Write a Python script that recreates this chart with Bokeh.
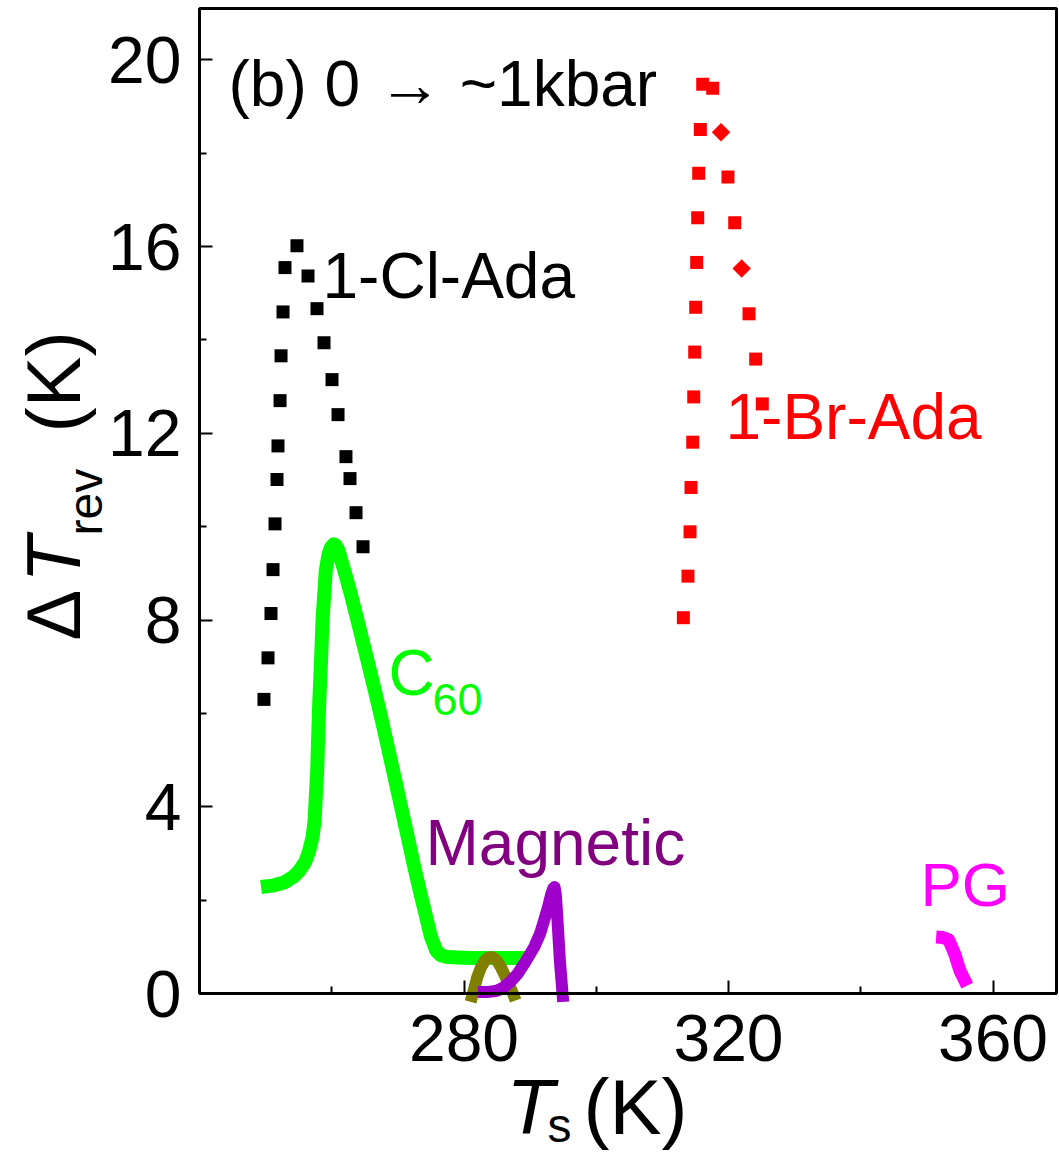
import math
from bokeh.plotting import figure
from bokeh.models import Range1d, FixedTicker, Label, BoxAnnotation
from bokeh.embed import file_html
from bokeh.resources import INLINE

# ---------------- data ----------------
cl_ada_T = [249.75, 250.36, 250.81, 251.12, 251.42, 251.72, 251.87, 252.18, 252.33, 252.63, 252.93, 254.74,
            256.41, 257.77, 258.83, 260.04, 260.95, 262.15, 262.76, 263.67, 264.73]
cl_ada_dT = [6.30, 7.19, 8.14, 9.08, 10.06, 11.01, 11.73, 12.70, 13.66, 14.60, 15.55, 16.02,
             15.37, 14.67, 13.94, 13.15, 12.40, 11.50, 11.03, 10.30, 9.57]

br_ada_T = [313.17, 313.87, 314.18, 314.33, 314.59, 314.74, 314.89, 315.04, 315.19, 315.34, 315.49, 315.74, 316.10,
            317.61, 319.92, 320.94, 323.10, 324.11, 325.11]
br_ada_dT = [8.05, 8.94, 9.89, 10.84, 11.81, 12.78, 13.74, 14.70, 15.66, 16.62, 17.57, 18.51, 19.48,
             19.39, 17.49, 16.51, 14.56, 13.59, 12.63]
br_ada_diamond_T = [318.87, 321.99]
br_ada_diamond_dT = [18.45, 15.53]

c60_T = [249.3, 251.0, 252.8, 254.2, 255.1, 256.0, 256.6, 257.1, 257.4, 257.8, 258.1, 258.4, 258.6, 259.1,
         259.5, 259.9, 260.3, 260.6, 261.0, 261.4, 261.9, 262.9, 263.9, 265.2, 266.4, 267.5, 268.5, 269.5,
         270.5, 271.5, 272.5, 273.4, 274.3, 275.0, 275.8, 276.5, 277.5, 279.0, 281.0, 284.0, 287.0, 289.6]
c60_dT = [2.28, 2.31, 2.38, 2.50, 2.63, 2.82, 3.06, 3.35, 3.70, 4.78, 6.20, 7.20, 7.99, 9.06,
          9.40, 9.56, 9.62, 9.60, 9.50, 9.30, 9.06, 8.55, 7.99, 7.25, 6.56, 5.90, 5.27, 4.63,
          3.99, 3.35, 2.70, 2.15, 1.63, 1.22, 0.92, 0.82, 0.78, 0.77, 0.76, 0.76, 0.76, 0.76]

olive_T = [281.0, 281.5, 282.0, 282.6, 283.2, 283.7, 284.1, 284.6, 285.1, 285.6, 286.2, 286.8, 287.4, 287.8]
olive_dT = [-0.18, 0.08, 0.35, 0.57, 0.71, 0.77, 0.78, 0.75, 0.68, 0.56, 0.38, 0.18, 0.00, -0.15]

mag_T = [282.1, 283.5, 285.0, 286.0, 287.0, 288.1, 289.3, 290.6, 291.5, 292.1, 292.7, 293.2, 293.5, 293.7,
         293.9, 294.2, 294.5, 294.9, 295.0]
mag_dT = [0.03, 0.03, 0.06, 0.13, 0.25, 0.42, 0.68, 0.99, 1.28, 1.56, 1.85, 2.13, 2.25, 2.28,
          2.10, 1.42, 0.70, 0.00, -0.18]

pg_T = [351.4, 352.4, 353.3, 354.2, 355.0, 356.1]
pg_dT = [1.21, 1.20, 1.15, 0.85, 0.49, 0.17]

x_major = [280, 320, 360]
x_minor = [260, 300, 340]
y_major = [0, 4, 8, 12, 16, 20]
y_minor = [2, 6, 10, 14, 18]

# ---------------- layout helpers ----------------
W, H = 1059, 1158
X0, X1 = 240.0, 369.6          # data extent of the axes box
Y0, Y1 = 0.0, 21.1
FL, FT, FR, FB = 199, 8, 1056, 993   # axes box edges in page px


def px(xp, yp):
    """page pixel position -> data coordinates (used for placing texts / ranges)"""
    x = X0 + (xp - FL) * (X1 - X0) / (FR - FL)
    y = Y0 + (FB - yp) * (Y1 - Y0) / (FB - FT)
    return x, y


xs0, ys1 = px(0, 0)
xs1, ys0 = px(W, H)

FONT = "Liberation Sans"

p = figure(width=W, height=H, output_backend="svg", toolbar_location=None,
           x_range=Range1d(xs0, xs1), y_range=Range1d(ys0, ys1),
           min_border_left=0, min_border_right=0, min_border_top=0, min_border_bottom=0)
p.background_fill_color = "white"
p.border_fill_color = "white"
p.grid.visible = False
p.outline_line_color = None

for ax in (p.xaxis[0], p.yaxis[0]):
    ax.axis_line_width = 3
    ax.axis_line_color = "black"
    ax.major_tick_in = 13
    ax.major_tick_out = 0
    ax.minor_tick_in = 7
    ax.minor_tick_out = 0
    ax.major_tick_line_width = 2
    ax.minor_tick_line_width = 2
    ax.major_tick_line_color = "black"
    ax.minor_tick_line_color = "black"
    ax.major_label_text_font = FONT
    ax.major_label_text_font_size = "66px"
    ax.major_label_text_color = "black"
    ax.axis_label = None

p.xaxis[0].ticker = FixedTicker(ticks=x_major, minor_ticks=x_minor)
p.yaxis[0].ticker = FixedTicker(ticks=y_major, minor_ticks=y_minor)
p.xaxis[0].fixed_location = Y0
p.yaxis[0].fixed_location = X0
p.xaxis[0].bounds = (X0, X1)
p.yaxis[0].bounds = (Y0, Y1)
p.xaxis[0].major_label_standoff = 21
p.yaxis[0].major_label_standoff = 18

# box around the plotting area (top / right sides)
p.add_layout(BoxAnnotation(left=X0, right=X1, bottom=Y0, top=Y1, fill_color=None, fill_alpha=0,
                           line_color="black", line_alpha=1.0, line_width=3))

# ---------------- curves ----------------
p.line(c60_T, c60_dT, line_color="#00ff00", line_width=14, line_join="round")
p.line(olive_T, olive_dT, line_color="#808000", line_width=12, line_join="round")
p.line(mag_T, mag_dT, line_color="#a000cc", line_width=12, line_join="round")
p.line(pg_T, pg_dT, line_color="#ff00ff", line_width=13, line_join="round")

# ---------------- markers ----------------
p.scatter(cl_ada_T, cl_ada_dT, marker="square", size=13, fill_color="black", line_color="black", line_width=0)
p.scatter(br_ada_T, br_ada_dT, marker="square", size=13, fill_color="#ff0000", line_color="#ff0000", line_width=0)
p.scatter(br_ada_diamond_T, br_ada_diamond_dT, marker="square", size=13, angle=math.pi / 4,
          fill_color="#ff0000", line_color="#ff0000", line_width=0)

# ---------------- texts ----------------
SHIFT = 0.38  # empirical baseline correction (fraction of font size)


def add_label(xp, yp, text, size, color="black", style="normal", rotated=False):
    if rotated:
        x, y = px(xp - SHIFT * size, yp)
        angle = math.pi / 2
    else:
        x, y = px(xp, yp - SHIFT * size)
        angle = 0.0
    p.add_layout(Label(x=x, y=y, text=text, text_font=FONT, text_font_size=f"{size}px",
                       text_color=color, text_font_style=style, angle=angle,
                       text_align="left", text_baseline="alphabetic"))


add_label(228, 108, "(b) 0 \u2192 ~1kbar", 64)
add_label(322, 300, "1-Cl-Ada", 64)
add_label(725, 441, "1-Br-Ada", 64, color="#ff0000")
add_label(388, 697, "C", 64, color="#00ff00")
add_label(432, 716, "60", 45, color="#00ff00")
add_label(425, 867, "Magnetic", 64, color="#800080")
add_label(920, 908, "PG", 62, color="#ff00ff")

# x-axis title: T_s (K)
add_label(506, 1136, "T", 78, style="italic")
add_label(547, 1143, "s", 48)
add_label(583, 1136, "(K)", 78)

# y-axis title: ΔT_rev (K), rotated
add_label(82, 640, "\u0394", 76, rotated=True)
add_label(82, 582, "T", 76, style="italic", rotated=True)
add_label(103, 535, "rev", 48, rotated=True)
add_label(82, 432, "(K)", 76, rotated=True)

open("out.html", "w").write(file_html(p, INLINE))
